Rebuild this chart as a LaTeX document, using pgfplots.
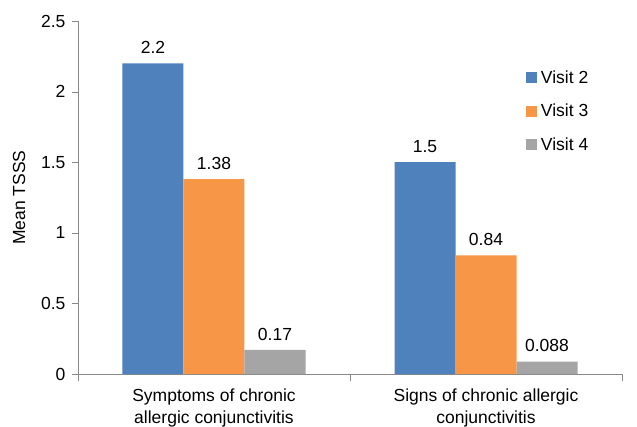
\documentclass[border=0pt]{standalone}
\usepackage{pgfplots}
\pgfplotsset{compat=1.18}
\usepackage{fontspec}
\setmainfont{Liberation Sans}
\definecolor{cblue}{HTML}{4F81BD}
\definecolor{corange}{HTML}{F79646}
\definecolor{cgray}{HTML}{A5A5A5}
\definecolor{axgray}{HTML}{898989}
\begin{document}
\begin{tikzpicture}
\begin{axis}[
  at={(0,0)}, anchor=south west,
  scale only axis, width=544pt, height=353pt,
  font=\fontsize{17.5pt}{22pt}\selectfont,
  ticklabel style={font=\fontsize{17.5pt}{22pt}\selectfont},
  ybar=0pt, bar width=61pt,
  xmin=-0.5, xmax=1.5, ymin=0, ymax=2.5,
  axis x line=bottom, axis y line=left,
  axis line style={draw=axgray, -},
  xtick={0,1},
  xticklabels={Symptoms of chronic\\allergic conjunctivitis, Signs of chronic allergic\\conjunctivitis},
  xticklabel style={align=center, yshift=-5pt},
  x tick style={draw=none},
  minor xtick={-0.5,0.5,1.5},
  minor x tick style={draw=axgray},
  minor tick length=7pt,
  ytick={0,0.5,...,2.5},
  yticklabels={0,0.5,1,1.5,2,2.5},
  yticklabel style={xshift=-3pt},
  y tick style={draw=axgray},
  tick align=outside, major tick length=6pt,
  ylabel={Mean TSSS},
  ylabel shift=9pt,
  ylabel style={font=\fontsize{17.5pt}{22pt}\selectfont},
  /pgf/number format/assume math mode=true,
  point meta=explicit symbolic,
  nodes near coords,
  every node near coord/.append style={anchor=south, yshift=6pt, font=\fontsize{17.5pt}{22pt}\selectfont, text=black},
  legend style={draw=none, fill=none, at={(0.823,0.866)}, anchor=north west, font=\fontsize{17.5pt}{22pt}\selectfont, row sep=15.5pt, inner sep=0pt,
    nodes={inner xsep=4pt}},
  legend cell align=left,
  legend image code/.code={\draw[#1, draw=none] (0cm,-5.5pt) rectangle (11pt,5.5pt);},
  clip=false,
]
\addplot[fill=cblue, draw=none] coordinates {(0,2.2) [2.2] (1,1.5) [1.5]};
\addplot[fill=corange, draw=none] coordinates {(0,1.38) [1.38] (1,0.84) [0.84]};
\addplot[fill=cgray, draw=none] coordinates {(0,0.17) [0.17] (1,0.088) [0.088]};
\legend{Visit 2, Visit 3, Visit 4}
\end{axis}
\pgfresetboundingbox
\path[use as bounding box] (-78pt,-52pt) rectangle (559pt,374pt);
\end{tikzpicture}
\end{document}
